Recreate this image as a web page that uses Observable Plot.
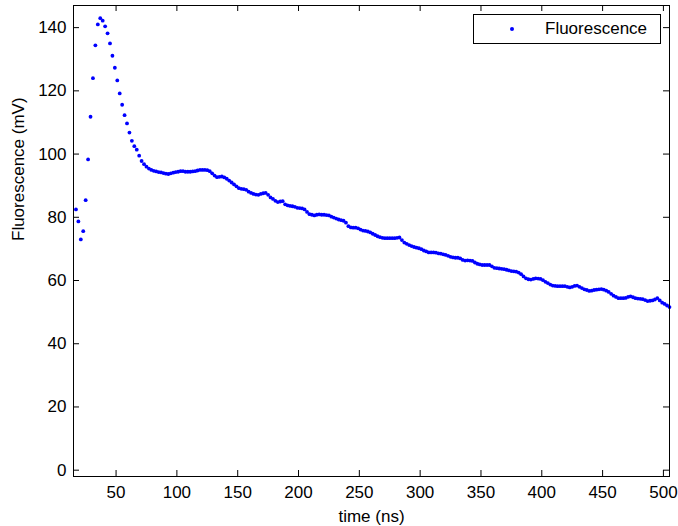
<!DOCTYPE html>
<html><head><meta charset="utf-8">
<script src="https://cdn.jsdelivr.net/npm/d3@7"></script>
<script src="https://cdn.jsdelivr.net/npm/@observablehq/plot@0.6"></script>
<style>
body{margin:0;background:#fff;}
#wrap{position:relative;width:678px;height:526px;font-family:"Liberation Sans",Arial,Helvetica,sans-serif;}
#legend{position:absolute;left:473px;top:14px;width:188px;height:30px;border:1px solid #000;background:#fff;box-sizing:border-box;font-size:17px;color:#000;}
#legend .dot{position:absolute;left:36px;top:12px;width:4px;height:4px;border-radius:50%;background:#0000ff;}
#legend .lab{position:absolute;left:71px;top:4px;line-height:20px;white-space:nowrap;}
</style></head><body><div id="wrap"></div>
<script>
const startTime = 17;   // ns, first sample
const sampleStep = 2;   // ns between samples
const fluorescence = [
  82.5, 78.7, 73.0, 75.6, 85.4, 98.3, 111.8, 124.0, 134.4, 141.0,
  143.0, 142.2, 140.4, 138.2, 135.0, 131.1, 127.3, 123.3, 119.2, 115.6,
  112.3, 109.7, 106.8, 104.2, 102.5, 101.4, 99.5, 97.8, 96.8, 96.0,
  95.4, 95.0, 94.7, 94.5, 94.3, 94.2, 94.0, 93.8, 93.7, 93.9,
  94.1, 94.3, 94.4, 94.6, 94.6, 94.4, 94.4, 94.4, 94.5, 94.6,
  94.8, 95.0, 95.0, 95.0, 94.9, 94.6, 93.9, 93.2, 92.7, 92.8,
  92.9, 92.6, 92.2, 91.6, 91.0, 90.4, 89.8, 89.2, 89.0, 88.9,
  88.7, 88.1, 87.7, 87.4, 87.2, 87.1, 87.4, 87.6, 87.7, 87.1,
  86.3, 85.8, 85.2, 84.8, 85.0, 85.1, 84.1, 83.8, 83.6, 83.5,
  83.3, 83.0, 82.9, 82.8, 82.5, 81.7, 81.0, 80.8, 80.6, 80.8,
  80.9, 80.8, 80.8, 80.7, 80.6, 80.2, 79.9, 79.6, 79.3, 79.1,
  78.9, 78.3, 77.2, 76.8, 76.7, 76.7, 76.5, 76.1, 75.8, 75.7,
  75.5, 75.2, 74.8, 74.4, 74.0, 73.7, 73.5, 73.4, 73.4, 73.4,
  73.4, 73.4, 73.5, 73.6, 72.8, 72.0, 71.6, 71.2, 70.9, 70.6,
  70.4, 70.2, 69.9, 69.5, 69.2, 68.9, 68.9, 68.9, 68.8, 68.6,
  68.5, 68.3, 68.1, 67.8, 67.5, 67.3, 67.2, 67.2, 67.0, 66.5,
  66.3, 66.4, 66.3, 66.2, 65.7, 65.3, 65.1, 64.9, 64.9, 64.9,
  64.9, 64.5, 64.0, 63.9, 63.8, 63.7, 63.6, 63.4, 63.2, 63.0,
  62.9, 62.8, 62.5, 62.0, 61.3, 60.7, 60.4, 60.3, 60.5, 60.7,
  60.6, 60.5, 60.1, 59.6, 59.2, 58.7, 58.4, 58.3, 58.2, 58.2,
  58.2, 58.2, 58.0, 57.8, 58.0, 58.3, 58.4, 58.0, 57.6, 57.2,
  57.0, 56.7, 56.8, 57.0, 57.1, 57.2, 57.3, 57.1, 56.8, 56.4,
  55.8, 55.2, 54.8, 54.4, 54.4, 54.4, 54.5, 54.8, 55.0, 54.7,
  54.4, 54.3, 54.2, 54.1, 53.8, 53.5, 53.6, 53.7, 54.0, 54.4,
  53.7, 53.0, 52.6, 52.1, 51.6
];
const xTicks = [50, 100, 150, 200, 250, 300, 350, 400, 450, 500];
const yTicks = [0, 20, 40, 60, 80, 100, 120, 140];
const xLabel = "time (ns)";
const yLabel = "Fluorescence (mV)";
const seriesName = "Fluorescence";

const data = fluorescence.map((v, i) => ({t: startTime + i * sampleStep, v}));

const W = 678, H = 526, mL = 73, mR = 9, mT = 5, mB = 50;
const pw = W - mL - mR, ph = H - mT - mB, tk = 6;

const chart = Plot.plot({
  width: W, height: H,
  marginLeft: mL, marginRight: mR, marginTop: mT, marginBottom: mB,
  style: {fontFamily: '"Liberation Sans", Arial, Helvetica, sans-serif', fontSize: "17px", color: "#000", background: "#fff"},
  x: {domain: [15, 505], ticks: xTicks, tickSize: 0, tickPadding: 9, label: null},
  y: {domain: [-2, 147], ticks: yTicks, tickSize: 0, tickPadding: 7, label: null},
  marks: [
    Plot.tickX(xTicks, {x: d => d, insetTop: ph - tk, stroke: "#000"}),
    Plot.tickX(xTicks, {x: d => d, insetBottom: ph - tk, stroke: "#000"}),
    Plot.tickY(yTicks, {y: d => d, insetRight: pw - tk, stroke: "#000"}),
    Plot.tickY(yTicks, {y: d => d, insetLeft: pw - tk, stroke: "#000"}),
    Plot.dot(data, {x: "t", y: "v", r: 1.9, fill: "#0000ff", stroke: null}),
    Plot.frame({stroke: "#000", strokeWidth: 1}),
    Plot.text([xLabel], {text: d => d, frameAnchor: "bottom", dy: 45, fontSize: 17}),
    Plot.text([yLabel], {text: d => d, frameAnchor: "left", dx: -55, rotate: -90, fontSize: 17})
  ]
});
const wrap = document.getElementById("wrap");
wrap.appendChild(chart);
const leg = document.createElement("div");
leg.id = "legend";
leg.innerHTML = '<span class="dot"></span><span class="lab"></span>';
leg.querySelector(".lab").textContent = seriesName;
wrap.appendChild(leg);
</script>
</body></html>
